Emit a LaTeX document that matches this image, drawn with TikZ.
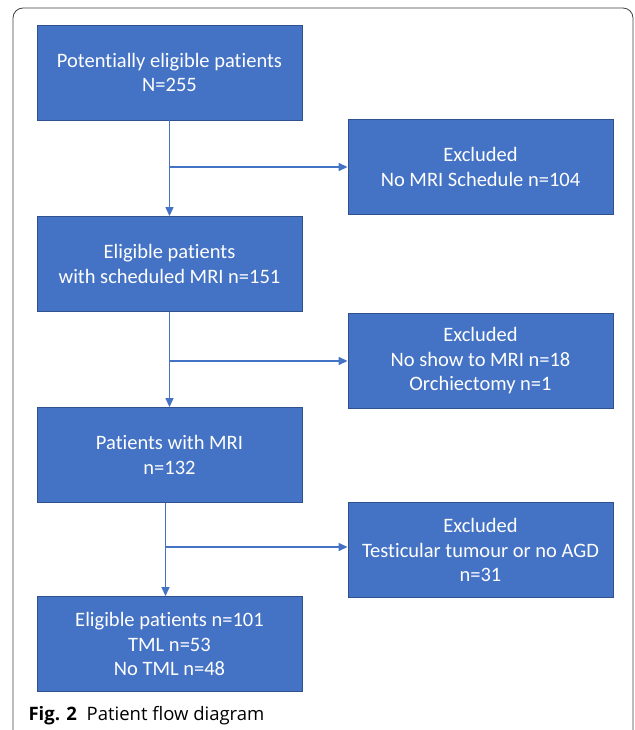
\documentclass[tikz,border=0pt]{standalone}
\usepackage{fontspec}
\setmainfont[Ligatures=NoCommon]{Carlito}
\newfontfamily\capfont{Open Sans}
\usetikzlibrary{arrows.meta}

\definecolor{boxblue}{HTML}{4472C4}
\definecolor{boxline}{HTML}{2F528F}

\tikzset{
    flowbox/.style={rectangle, draw=boxline, line width=0.9pt, fill=boxblue,
        text=white, align=center, minimum width=265pt, minimum height=95pt,
        inner sep=0pt, font=\fontsize{20.5}{24.5}\selectfont},
    flowarrow/.style={-{Triangle[length=9pt,width=8pt]}, boxblue, line width=1.4pt}
}

\begin{document}
\begin{tikzpicture}[x=1pt,y=-1pt]
        \useasboundingbox (0,0) rectangle (634,730);

        % frame round the figure
        \draw[black!75, line width=0.8pt, rounded corners=10pt] (13,740) -- (13,8) -- (633,8) -- (633,740);

        \node[flowbox] (pot) at (169.5, 72.5) {Potentially eligible patients\\N=255};
        \node[flowbox] (excl1) at (480.5, 167) {Excluded\\No MRI Schedule n=104};
        \node[flowbox] (elig) at (169.5, 264) {Eligible patients\\with scheduled MRI n=151};
        \node[flowbox] (excl2) at (480.5, 361) {Excluded\\No show to MRI n=18\\Orchiectomy n=1};
        \node[flowbox] (mri) at (169.5, 455) {Patients with MRI\\n=132};
        \node[flowbox] (excl3) at (480.5, 550) {Excluded\\Testicular tumour or no AGD\\n=31};
        \node[flowbox] (final) at (169.5, 644) {Eligible patients n=101\\TML n=53\\No TML n=48};

        \draw[flowarrow] (pot) -- (elig);
        \draw[flowarrow] (elig) -- (mri);
        \draw[flowarrow] ([xshift=-4pt]mri.south) -- ([xshift=-4pt]final.north);
        \draw[flowarrow] (pot.south |- excl1.west) -- (excl1.west);
        \draw[flowarrow] (elig.south |- excl2.west) -- (excl2.west);
        \draw[flowarrow] ([xshift=-4pt,yshift=3pt]mri.south |- excl3.west) -- ([yshift=3pt]excl3.west);

        \node[anchor=base west, font=\capfont\fontsize{18.5}{22}\selectfont] (caption) at (25, 720)
            {\textbf{Fig. 2}\ \ Patient flow diagram};
    \end{tikzpicture}
\end{document}
